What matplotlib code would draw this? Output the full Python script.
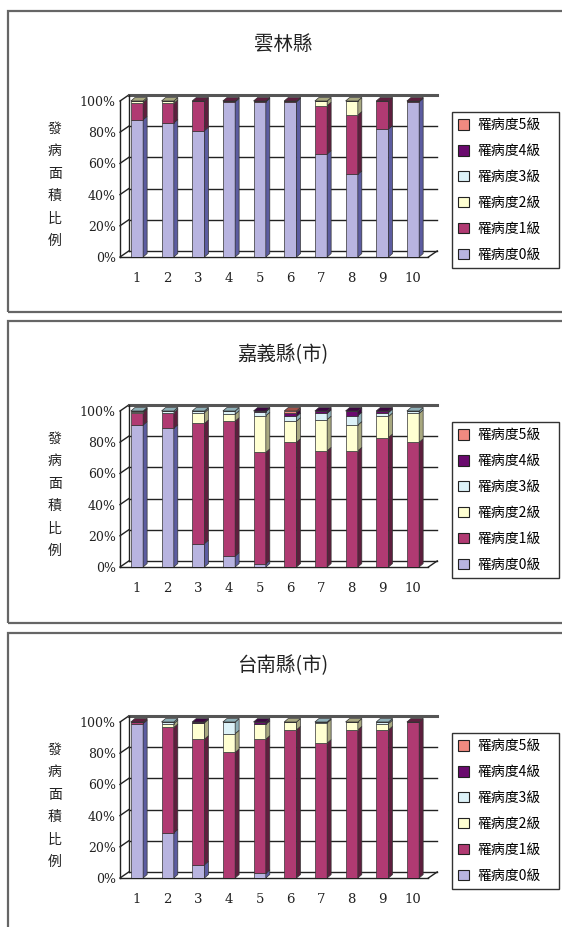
"""
Disease area ratio by severity level, three counties
"""
import matplotlib
matplotlib.use("Agg")
import matplotlib.pyplot as plt
from matplotlib.patches import Polygon, Rectangle, Patch

# ---- data (percent of infected area per severity level, stations 1..10)
stations = [1, 2, 3, 4, 5, 6, 7, 8, 9, 10]
level_names = ["罹病度0級", "罹病度1級", "罹病度2級", "罹病度3級", "罹病度4級", "罹病度5級"]
region_titles = ["雲林縣", "嘉義縣(市)", "台南縣(市)"]
ytick_vals = [0, 20, 40, 60, 80, 100]

yunlin = [
    [88, 86, 81, 99.5, 99.5, 99.5, 66, 53, 82, 99.5],   # 0
    [11, 12.5, 19, 0.5, 0.5, 0.5, 31, 38, 18, 0.5],     # 1
    [1, 1.5, 0, 0, 0, 0, 3, 9, 0, 0],                   # 2
    [0, 0, 0, 0, 0, 0, 0, 0, 0, 0],                     # 3
    [0, 0, 0, 0, 0, 0, 0, 0, 0, 0],                     # 4
    [0, 0, 0, 0, 0, 0, 0, 0, 0, 0],                     # 5
]
chiayi = [
    [91, 89, 15, 7, 2, 0, 0, 0, 0, 0],
    [8, 10, 77, 86.5, 71.5, 80, 74.5, 74.5, 83, 80],
    [0.5, 0, 7, 4.5, 23.5, 13.5, 20, 16.5, 13.5, 18.5],
    [0.5, 1, 1, 2, 2.5, 3, 4, 6, 2.5, 1.5],
    [0, 0, 0, 0, 0.5, 2.5, 1.5, 3, 1, 0],
    [0, 0, 0, 0, 0, 1, 0, 0, 0, 0],
]
tainan = [
    [99, 29, 8.5, 0, 3, 0, 0, 0, 0, 0],
    [1, 67.5, 80.5, 80.5, 86, 95, 86.5, 95, 95, 100],
    [0, 2.5, 10.5, 12, 9.5, 5, 13, 5, 4, 0],
    [0, 1, 0, 7.5, 0, 0, 0.5, 0, 1, 0],
    [0, 0, 0.5, 0, 1.5, 0, 0, 0, 0, 0],
    [0, 0, 0, 0, 0, 0, 0, 0, 0, 0],
]
regions = [yunlin, chiayi, tainan]

# Excel-style 3D colours: front face, shaded side/top
front_cols = ["#B8B4E0", "#B03A72", "#FFFFD2", "#DDF2F8", "#6A0A6E", "#F08A80"]
side_cols = ["#5C5CA0", "#5E1E3E", "#A8A880", "#8FB0B8", "#3C0640", "#A05048"]

W, H = 562, 927
fig = plt.figure(figsize=(W / 100, H / 100), dpi=100)


def fx(px):
    return px / W


def fy(py):
    return 1 - py / H


CJK = ["Noto Sans CJK TC", "DejaVu Sans"]
SERIF = ["DejaVu Serif"]

# geometry in pixels (panel 1 reference, others shifted)
panel_offsets = [0, 310, 621]
panel_tops = [11, 321, 633]
panel_bots = [312, 623, 940]
x_first, px_unit = 137.0, 30.67      # centre of bar 1, px per station
y_zero, px_pct = 257.0, 1.56         # front 0% line, px per percent
ax_left, ax_right, ax_top = 120.0, 448.0, 88.0

bar_w = 0.40
bdx, bdy = 0.13, 2.2        # bar depth offset (data units)
wdx, wdy = 0.29, 3.9        # back wall offset (data units)
x0, x1 = 1 + (ax_left - x_first) / px_unit, 10.5

for r, data in enumerate(regions):
    off = panel_offsets[r]

    # panel frame
    fig.patches.append(Rectangle((fx(8), fy(panel_bots[r])), fx(600) - fx(8),
                                 fy(panel_tops[r]) - fy(panel_bots[r]),
                                 transform=fig.transFigure, fill=False,
                                 edgecolor="#666666", lw=1.6))

    fig.text(fx(283), fy(45 + off), region_titles[r], family=CJK, fontsize=14,
             ha="center", va="center", color="#222222")

    for i, ch in enumerate("發病面積比例"):
        fig.text(fx(55), fy(129 + 22.4 * i + off), ch, family=CJK, fontsize=10,
                 ha="center", va="center", color="#222222", weight="medium")

    bottom_px = y_zero + off
    ax = fig.add_axes([fx(ax_left), fy(bottom_px), fx(ax_right) - fx(ax_left),
                       fy(ax_top + off) - fy(bottom_px)])
    ax.set_xlim(x0, x0 + (ax_right - ax_left) / px_unit)
    ax.set_ylim(0, (y_zero - ax_top) / px_pct)
    for s in ax.spines.values():
        s.set_visible(False)
    ax.set_facecolor("none")

    # walls and gridlines
    gkw = dict(color="#222222", lw=1.0, zorder=1, clip_on=False)
    for t in ytick_vals:
        ax.plot([x0 + wdx, x1 + wdx], [t + wdy, t + wdy], **gkw)
        ax.plot([x0, x0 + wdx], [t, t + wdy], **gkw)
    ax.plot([x0 + wdx, x1 + wdx], [100 + wdy, 100 + wdy], color="#555555", lw=2.2,
            zorder=1, clip_on=False)
    ax.plot([x0 + wdx, x0 + wdx], [wdy, 100 + wdy], **gkw)
    ax.plot([x0, x0], [0, 100], **gkw)
    ax.plot([x0, x1], [0, 0], **gkw)
    ax.plot([x1, x1 + wdx], [0, wdy], **gkw)

    # stacked 3D bars
    bottoms = [0.0] * len(stations)
    tops_col = [None] * len(stations)
    for lv, vals in enumerate(data):
        ax.bar(stations, vals, bottom=bottoms, width=bar_w, color=front_cols[lv],
               edgecolor="#333333", linewidth=0.5, zorder=3)
        for k, (xs, v) in enumerate(zip(stations, vals)):
            if v <= 0:
                continue
            b = bottoms[k]
            xr = xs + bar_w / 2
            ax.add_patch(Polygon([(xr, b), (xr + bdx, b + bdy), (xr + bdx, b + v + bdy),
                                  (xr, b + v)], closed=True, facecolor=side_cols[lv],
                                 edgecolor="#333333", lw=0.5, zorder=3))
            tops_col[k] = side_cols[lv]
        bottoms = [b + v for b, v in zip(bottoms, vals)]
    for k, xs in enumerate(stations):
        t = bottoms[k]
        xl, xr = xs - bar_w / 2, xs + bar_w / 2
        ax.add_patch(Polygon([(xl, t), (xl + bdx, t + bdy), (xr + bdx, t + bdy), (xr, t)],
                             closed=True, facecolor=tops_col[k], edgecolor="#333333",
                             lw=0.5, zorder=3))

    ax.set_yticks(ytick_vals)
    ax.set_yticklabels([f"{v}%" for v in ytick_vals], family=SERIF, fontsize=9)
    ax.set_xticks(stations)
    ax.set_xticklabels([str(s) for s in stations], family=SERIF, fontsize=9.5)
    ax.tick_params(axis="y", length=0, pad=3, colors="#222222")
    ax.tick_params(axis="x", length=0, pad=11, colors="#222222")

    handles = [Patch(facecolor=front_cols[lv], edgecolor="#222222", lw=0.8)
               for lv in range(len(level_names))][::-1]
    fig.legend(handles, level_names[::-1], loc="upper left",
               bbox_to_anchor=(fx(452), fy(113 + off), fx(559) - fx(452), 0.001),
               mode="expand", prop={"family": CJK, "size": 10}, frameon=True,
               fancybox=False, edgecolor="#333333", framealpha=1, borderpad=0.45,
               labelspacing=0.86, handlelength=0.75, handleheight=0.75,
               handletextpad=0.6, borderaxespad=0)

fig.savefig("out.png", dpi=100)
